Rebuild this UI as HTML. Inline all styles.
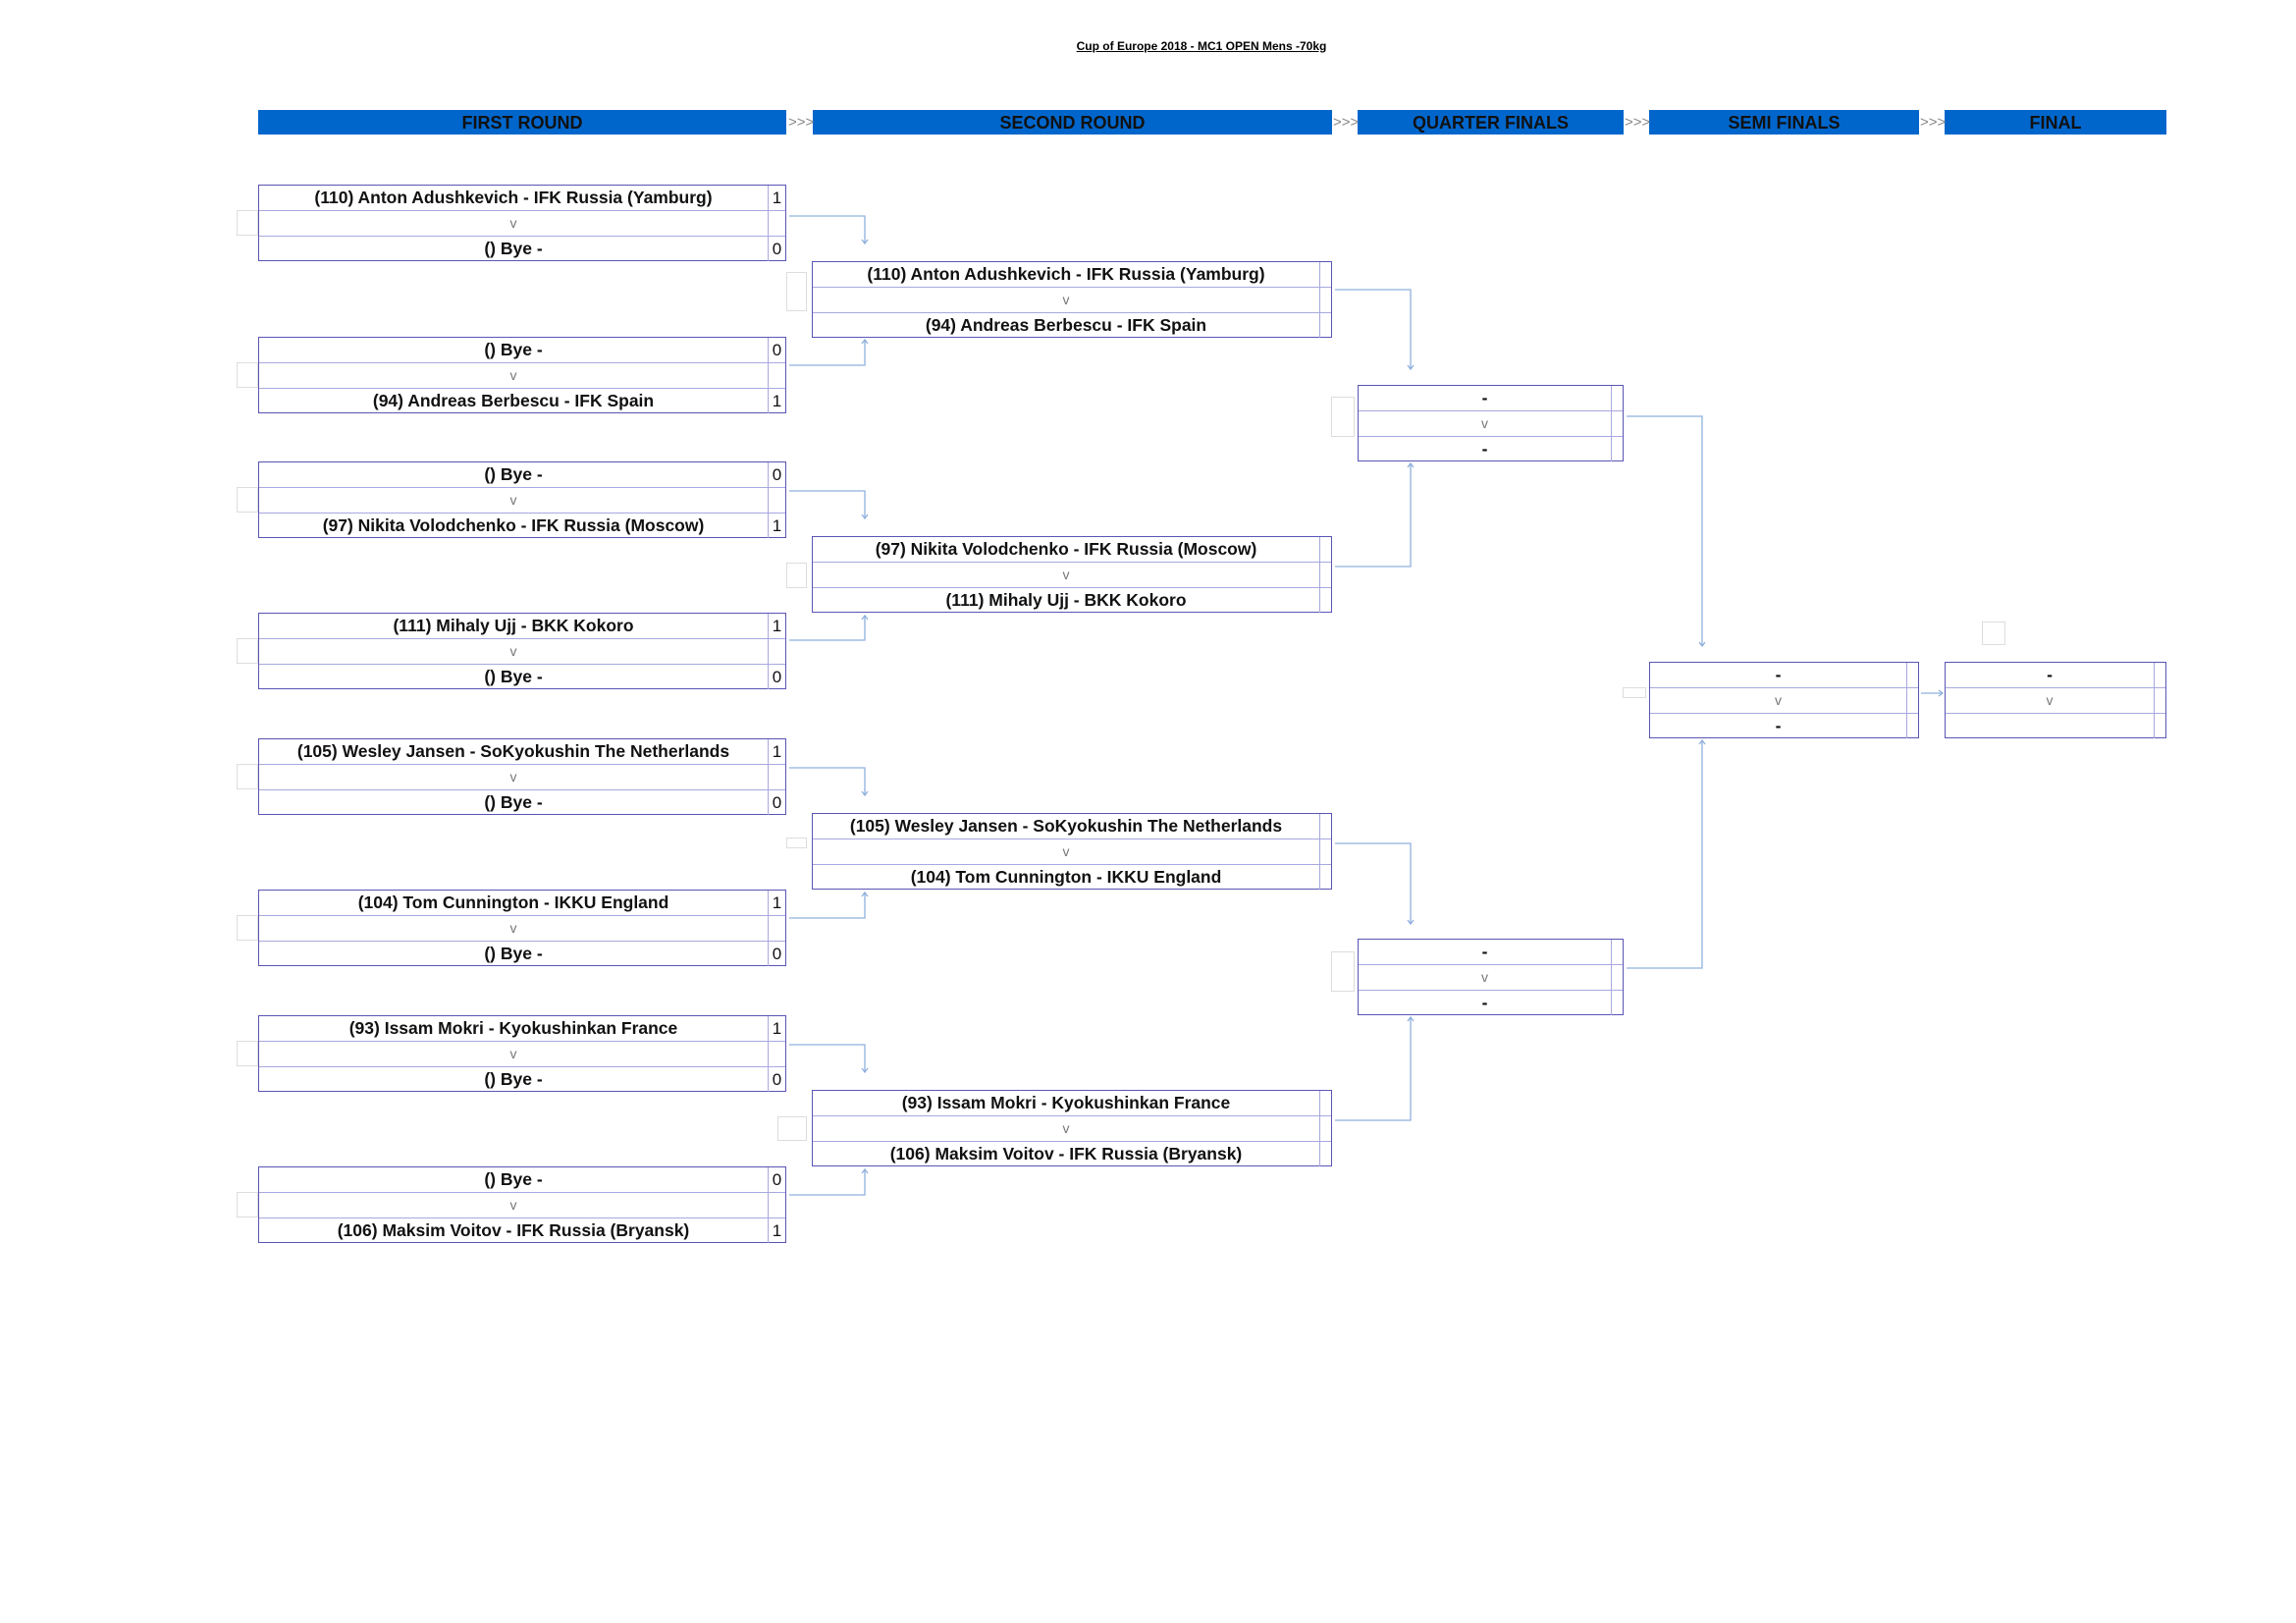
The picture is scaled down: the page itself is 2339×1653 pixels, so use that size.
<!DOCTYPE html>
<html><head><meta charset="utf-8"><style>
body{margin:0;width:2339px;height:1653px;background:#fff;position:relative;overflow:hidden;font-family:"Liberation Sans",sans-serif}
.h{position:absolute;top:112px;height:25px;background:#0066cc;color:#111;font:bold 18px/26px "Liberation Sans",sans-serif;text-align:center}
.g{position:absolute;color:#888;font:15px/25px "Liberation Sans",sans-serif}
.b{position:absolute;height:78px;border:1.5px solid #5a55b5;box-sizing:border-box;background:#fff}
.r{height:25px;display:flex;border-bottom:1px solid #a8a8e0}
.r:last-child{border-bottom:none}
.n{flex:1;text-align:center;font:bold 17.5px/25px "Liberation Sans",sans-serif;color:#111;white-space:nowrap}
.v{flex:1;text-align:center;font:14px/25px "Liberation Sans",sans-serif;color:#777}
.s{border-left:1px solid #a8a8e0;text-align:center;font:17px/25px "Liberation Sans",sans-serif;color:#111}
.fr .s{width:17px}.o .s{width:11px}
.q{position:absolute;border:1px solid #ddd;box-sizing:border-box}
.t{position:absolute;top:40px;left:0;width:2448px;text-align:center;font:bold 12px "Liberation Sans",sans-serif;text-decoration:underline}
</style></head><body>
<div class="t">Cup of Europe 2018 - MC1 OPEN Mens -70kg</div>
<div class="h" style="left:263px;width:538px">FIRST ROUND</div>
<div class="h" style="left:828px;width:529px">SECOND ROUND</div>
<div class="h" style="left:1383px;width:271px">QUARTER FINALS</div>
<div class="h" style="left:1680px;width:275px">SEMI FINALS</div>
<div class="h" style="left:1981px;width:226px">FINAL</div>
<div class="g" style="left:803px;top:112px">&gt;&gt;&gt;</div>
<div class="g" style="left:1358px;top:112px">&gt;&gt;&gt;</div>
<div class="g" style="left:1655px;top:112px">&gt;&gt;&gt;</div>
<div class="g" style="left:1956px;top:112px">&gt;&gt;&gt;</div>

<div class="q" style="left:241px;top:214px;width:22px;height:26px"></div>
<div class="q" style="left:241px;top:369px;width:22px;height:26px"></div>
<div class="q" style="left:241px;top:496px;width:22px;height:26px"></div>
<div class="q" style="left:241px;top:650px;width:22px;height:26px"></div>
<div class="q" style="left:241px;top:778px;width:22px;height:26px"></div>
<div class="q" style="left:241px;top:932px;width:22px;height:26px"></div>
<div class="q" style="left:241px;top:1060px;width:22px;height:26px"></div>
<div class="q" style="left:241px;top:1214px;width:22px;height:26px"></div>
<div class="q" style="left:801px;top:277px;width:21px;height:40px"></div>
<div class="q" style="left:801px;top:573px;width:21px;height:26px"></div>
<div class="q" style="left:801px;top:853px;width:21px;height:11px"></div>
<div class="q" style="left:792px;top:1137px;width:30px;height:25px"></div>
<div class="q" style="left:1356px;top:404px;width:24px;height:41px"></div>
<div class="q" style="left:1356px;top:969px;width:24px;height:41px"></div>
<div class="q" style="left:1653px;top:700px;width:24px;height:11px"></div>
<div class="q" style="left:2019px;top:633px;width:24px;height:24px"></div>

<div class="b fr" style="left:263px;top:188px;width:538px"><div class="r"><div class="n">(110) Anton Adushkevich - IFK Russia (Yamburg)</div><div class="s">1</div></div><div class="r"><div class="v">v</div><div class="s"></div></div><div class="r"><div class="n">() Bye -</div><div class="s">0</div></div></div>
<div class="b fr" style="left:263px;top:343px;width:538px"><div class="r"><div class="n">() Bye -</div><div class="s">0</div></div><div class="r"><div class="v">v</div><div class="s"></div></div><div class="r"><div class="n">(94) Andreas Berbescu - IFK Spain</div><div class="s">1</div></div></div>
<div class="b fr" style="left:263px;top:470px;width:538px"><div class="r"><div class="n">() Bye -</div><div class="s">0</div></div><div class="r"><div class="v">v</div><div class="s"></div></div><div class="r"><div class="n">(97) Nikita Volodchenko - IFK Russia (Moscow)</div><div class="s">1</div></div></div>
<div class="b fr" style="left:263px;top:624px;width:538px"><div class="r"><div class="n">(111) Mihaly Ujj - BKK Kokoro</div><div class="s">1</div></div><div class="r"><div class="v">v</div><div class="s"></div></div><div class="r"><div class="n">() Bye -</div><div class="s">0</div></div></div>
<div class="b fr" style="left:263px;top:752px;width:538px"><div class="r"><div class="n">(105) Wesley Jansen - SoKyokushin The Netherlands</div><div class="s">1</div></div><div class="r"><div class="v">v</div><div class="s"></div></div><div class="r"><div class="n">() Bye -</div><div class="s">0</div></div></div>
<div class="b fr" style="left:263px;top:906px;width:538px"><div class="r"><div class="n">(104) Tom Cunnington - IKKU England</div><div class="s">1</div></div><div class="r"><div class="v">v</div><div class="s"></div></div><div class="r"><div class="n">() Bye -</div><div class="s">0</div></div></div>
<div class="b fr" style="left:263px;top:1034px;width:538px"><div class="r"><div class="n">(93) Issam Mokri - Kyokushinkan France</div><div class="s">1</div></div><div class="r"><div class="v">v</div><div class="s"></div></div><div class="r"><div class="n">() Bye -</div><div class="s">0</div></div></div>
<div class="b fr" style="left:263px;top:1188px;width:538px"><div class="r"><div class="n">() Bye -</div><div class="s">0</div></div><div class="r"><div class="v">v</div><div class="s"></div></div><div class="r"><div class="n">(106) Maksim Voitov - IFK Russia (Bryansk)</div><div class="s">1</div></div></div>

<div class="b o" style="left:827px;top:266px;width:530px"><div class="r"><div class="n">(110) Anton Adushkevich - IFK Russia (Yamburg)</div><div class="s"></div></div><div class="r"><div class="v">v</div><div class="s"></div></div><div class="r"><div class="n">(94) Andreas Berbescu - IFK Spain</div><div class="s"></div></div></div>
<div class="b o" style="left:827px;top:546px;width:530px"><div class="r"><div class="n">(97) Nikita Volodchenko - IFK Russia (Moscow)</div><div class="s"></div></div><div class="r"><div class="v">v</div><div class="s"></div></div><div class="r"><div class="n">(111) Mihaly Ujj - BKK Kokoro</div><div class="s"></div></div></div>
<div class="b o" style="left:827px;top:828px;width:530px"><div class="r"><div class="n">(105) Wesley Jansen - SoKyokushin The Netherlands</div><div class="s"></div></div><div class="r"><div class="v">v</div><div class="s"></div></div><div class="r"><div class="n">(104) Tom Cunnington - IKKU England</div><div class="s"></div></div></div>
<div class="b o" style="left:827px;top:1110px;width:530px"><div class="r"><div class="n">(93) Issam Mokri - Kyokushinkan France</div><div class="s"></div></div><div class="r"><div class="v">v</div><div class="s"></div></div><div class="r"><div class="n">(106) Maksim Voitov - IFK Russia (Bryansk)</div><div class="s"></div></div></div>

<div class="b o" style="left:1383px;top:392px;width:271px"><div class="r"><div class="n">-</div><div class="s"></div></div><div class="r"><div class="v">v</div><div class="s"></div></div><div class="r"><div class="n">-</div><div class="s"></div></div></div>
<div class="b o" style="left:1383px;top:956px;width:271px"><div class="r"><div class="n">-</div><div class="s"></div></div><div class="r"><div class="v">v</div><div class="s"></div></div><div class="r"><div class="n">-</div><div class="s"></div></div></div>
<div class="b o" style="left:1680px;top:674px;width:275px"><div class="r"><div class="n">-</div><div class="s"></div></div><div class="r"><div class="v">v</div><div class="s"></div></div><div class="r"><div class="n">-</div><div class="s"></div></div></div>
<div class="b o" style="left:1981px;top:674px;width:226px"><div class="r"><div class="n">-</div><div class="s"></div></div><div class="r"><div class="v">v</div><div class="s"></div></div><div class="r"><div class="n"></div><div class="s"></div></div></div>

<svg width="2339" height="1653" style="position:absolute;left:0;top:0" fill="none" stroke="#8fb0dd" stroke-width="1.3">
<g>
<path d="M804 220H881V247M878 244L881 248L884 244"/>
<path d="M804 372H881V347M878 350L881 346L884 350"/>
<path d="M804 500H881V527M878 524L881 528L884 524"/>
<path d="M804 652H881V628M878 631L881 627L884 631"/>
<path d="M804 782H881V809M878 806L881 810L884 806"/>
<path d="M804 935H881V910M878 913L881 909L884 913"/>
<path d="M804 1064H881V1091M878 1088L881 1092L884 1088"/>
<path d="M804 1217H881V1192M878 1195L881 1191L884 1195"/>
<path d="M1360 295H1437V375M1434 372L1437 376L1440 372"/>
<path d="M1360 577H1437V473M1434 476L1437 472L1440 476"/>
<path d="M1360 859H1437V940M1434 937L1437 941L1440 937"/>
<path d="M1360 1141H1437V1037M1434 1040L1437 1036L1440 1040"/>
<path d="M1657 424H1734V657M1731 654L1734 658L1737 654"/>
<path d="M1657 986H1734V755M1731 758L1734 754L1737 758"/>
<path d="M1957 706H1978M1975 703L1979 706L1975 709"/>
</g></svg>
</body></html>
